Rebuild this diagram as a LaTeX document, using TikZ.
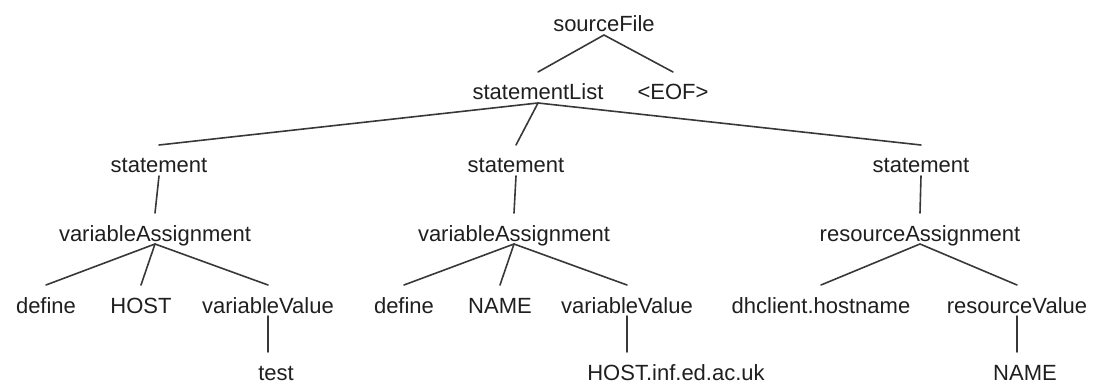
\documentclass[tikz,border=0pt]{standalone}
\usepackage{fontspec}
\setmainfont{Liberation Sans}
\usetikzlibrary{calc}
\newcommand\treeedge[2]{\draw[edge] ([yshift=-3pt]#1.base) -- ([yshift=28pt]#2.base);}
\newcommand\stemedge[2]{\draw[edge] ([yshift=-3pt]#1.base) -- ($(#1.base |- #2.base)+(0pt,28pt)$);}
\tikzset{
  lbl/.style={anchor=base, inner sep=0pt, text=black!88, font=\fontsize{22}{26}\selectfont},
  edge/.style={draw=black!78, line width=1.6pt, line cap=round},
}
\begin{document}
\begin{tikzpicture}[x=1pt,y=-1pt]
\useasboundingbox (0,0) rectangle (1101,385);
% root and its children
\node[lbl] (sf)  at (604,32)  {sourceFile};
\node[lbl] (sl)  at (538,100) {statementList};
\node[lbl] (eof) at (673,100) {<EOF>};
% statements
\node[lbl] (st1) at (159,173) {statement};
\node[lbl] (st2) at (516,173) {statement};
\node[lbl] (st3) at (921,173) {statement};
% assignments
\node[lbl] (va1) at (155,241) {variableAssignment};
\node[lbl] (va2) at (514,241) {variableAssignment};
\node[lbl] (ra)  at (920,241) {resourceAssignment};
% leaves of the first assignment
\node[lbl] (d1)  at (46,313)  {define};
\node[lbl] (h1)  at (141,313) {HOST};
\node[lbl] (vv1) at (268,313) {variableValue};
\node[lbl] (t1)  at (276,380) {test};
% leaves of the second assignment
\node[lbl] (d2)  at (404,313) {define};
\node[lbl] (n2)  at (500,313) {NAME};
\node[lbl] (vv2) at (627,313) {variableValue};
\node[lbl] (hs)  at (676,380) {HOST.inf.ed.ac.uk};
% leaves of the resource assignment
\node[lbl] (dh)  at (821,313) {dhclient.hostname};
\node[lbl] (rv)  at (1017,313) {resourceValue};
\node[lbl] (n3)  at (1025,380) {NAME};
% branches
\treeedge{sf}{sl}
\treeedge{sf}{eof}
\treeedge{sl}{st1}
\treeedge{sl}{st2}
\treeedge{sl}{st3}
\treeedge{st1}{va1}
\treeedge{st2}{va2}
\treeedge{st3}{ra}
\treeedge{va1}{d1}
\treeedge{va1}{h1}
\treeedge{va1}{vv1}
\treeedge{va2}{d2}
\treeedge{va2}{n2}
\treeedge{va2}{vv2}
\treeedge{ra}{dh}
\treeedge{ra}{rv}
\stemedge{vv1}{t1}
\stemedge{vv2}{hs}
\stemedge{rv}{n3}
\end{tikzpicture}
\end{document}
